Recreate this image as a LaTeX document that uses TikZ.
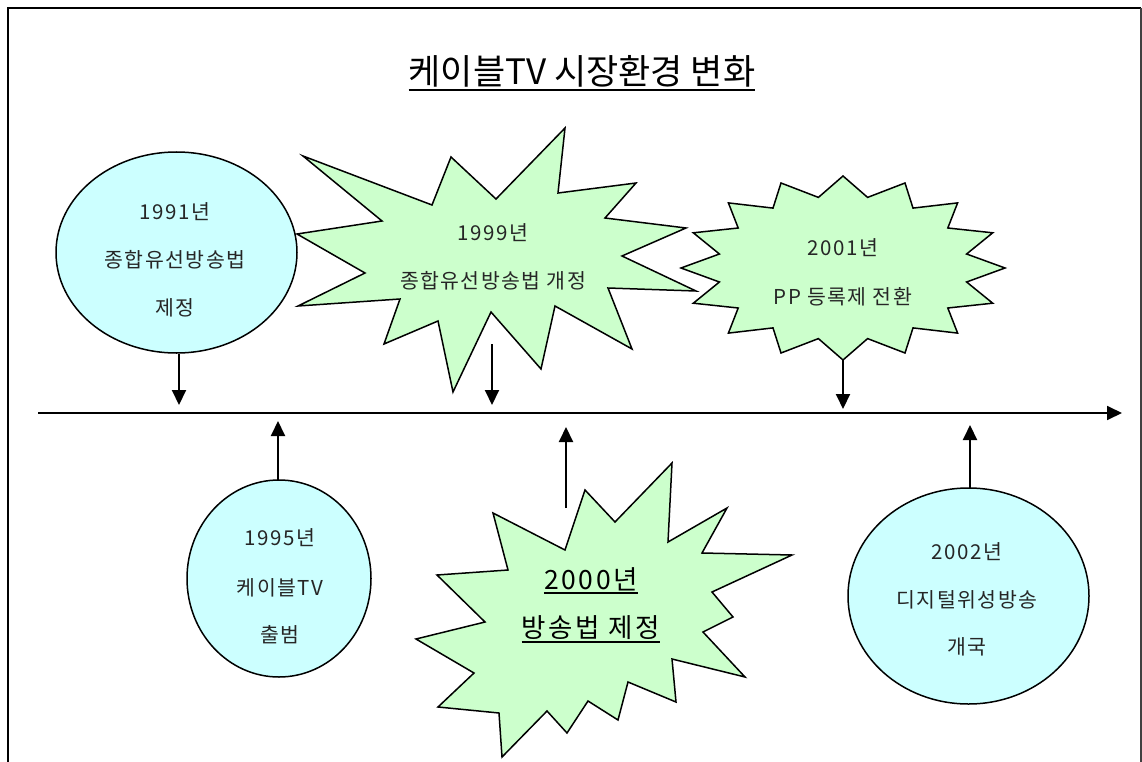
\documentclass[tikz,border=0pt]{standalone}
\usepackage{fontspec}
\setmainfont{Noto Sans CJK KR}
\newfontfamily\spacedf[LetterSpace=7]{Noto Sans CJK KR}
\newfontfamily\spacedbig[LetterSpace=10]{Noto Sans CJK KR}
\usetikzlibrary{arrows.meta,shapes.geometric}
\definecolor{cyanfill}{HTML}{CCFFFF}
\definecolor{greenfill}{HTML}{CCFFCC}
\begin{document}
\begin{tikzpicture}[x=1pt,y=-1pt,
  evt/.style={ellipse, draw=black, line width=1.5pt, fill=cyanfill, inner sep=0},
  burst/.style={draw=black, line width=1.5pt, fill=greenfill, line join=miter},
  lbl/.style={inner sep=0, text=black!85, font=\spacedf\fontsize{20.5}{24}\selectfont},
  biglbl/.style={inner sep=0, text=black, font=\spacedbig\fontsize{26.5}{30}\selectfont},
  arr/.style={line width=2pt, -{Triangle[width=14pt,length=15pt]}},
  uline/.style={line width=2pt}]
\useasboundingbox (0,0) rectangle (1142,762);
\fill[white] (0,0) rectangle (1142,762);
% frame
\draw[line width=2pt] (8,762) -- (8,8) -- (1141,8);
\draw[line width=1.2pt, black!75] (1141,8) -- (1141,762);
% title
\node[inner sep=0, font=\fontsize{35}{42}\selectfont] (title) at (582,71) {케이블TV 시장환경 변화};
\draw[line width=2.2pt] ([yshift=-3pt]title.south west) -- ([yshift=-3pt]title.south east);

% ellipses
\node[evt, minimum width=241pt, minimum height=201pt] (e91) at (176.5,252.5) {};
\node[evt, minimum width=184pt, minimum height=197pt] (e95) at (279,578.5) {};
\node[evt, minimum width=241pt, minimum height=216pt] (e02) at (968.5,596) {};

% 1999 burst
\filldraw[burst] (303,156) -- (432,205) -- (451,157) -- (496,199) -- (565,128) -- (558,193)
  -- (636,183) -- (605,218) -- (686,228) -- (622,256) -- (696,291) -- (608,288)
  -- (632,349) -- (555,306) -- (541,369) -- (491,312) -- (453,392) -- (438,321)
  -- (384,344) -- (400,299) -- (298,306) -- (365,273) -- (297,234) -- (382,221) -- cycle;
\coordinate (s99) at (492,260);

% 2001 burst (16-point star)
\begin{scope}[shift={(843,268)}]
\filldraw[burst] (0,-92) -- (24.6,-70.6) -- (62,-85) -- (70,-59.9) -- (114.6,-65.1)
  -- (104.8,-40) -- (149.7,-35.2) -- (123.6,-14) -- (162,0) -- (123.6,14)
  -- (149.7,35.2) -- (104.8,40) -- (114.6,65.1) -- (70,59.9) -- (62,85)
  -- (24.6,70.6) -- (0,92) -- (-24.6,70.6) -- (-62,85) -- (-70,59.9)
  -- (-114.6,65.1) -- (-104.8,40) -- (-149.7,35.2) -- (-123.6,14) -- (-162,0)
  -- (-123.6,-14) -- (-149.7,-35.2) -- (-104.8,-40) -- (-114.6,-65.1)
  -- (-70,-59.9) -- (-62,-85) -- (-24.6,-70.6) -- cycle;
\end{scope}
\coordinate (s01) at (843,268);

% 2000 burst
\filldraw[burst] (493,513) -- (565,550) -- (585,490) -- (615,522) -- (672,463) -- (668,542)
  -- (727,508) -- (702,553) -- (792,555) -- (712,592) -- (733,617) -- (703,632)
  -- (745,677) -- (672,659) -- (676,702) -- (628,682) -- (618,720) -- (588,701)
  -- (567,733) -- (547,711) -- (502,757) -- (499,713) -- (438,707) -- (474,673)
  -- (416,639) -- (485,622) -- (437,575) -- (508,570) -- cycle;
\coordinate (s00) at (591,605);

% texts
\node[lbl] (t91a) at (175,212) {1991년};
\node[lbl] (t91b) at (175,260) {종합유선방송법};
\node[lbl] (t91c) at (175,308) {제정};

\node[lbl] (t95a) at (280,538) {1995년};
\node[lbl] (t95b) at (280,588) {케이블TV};
\node[lbl] (t95c) at (280,635) {출범};

\node[lbl] (t02a) at (967,552) {2002년};
\node[lbl] (t02b) at (967,600) {디지털위성방송};
\node[lbl] (t02c) at (967,647) {개국};

\node[lbl] (t99a) at (493,233) {1999년};
\node[lbl] (t99b) at (493,281) {종합유선방송법 개정};

\node[lbl] (t01a) at (843,248) {2001년};
\node[lbl] (t01b) at (843,297) {PP 등록제 전환};

\node[biglbl] (t00a) at (591,579) {2000년};
\node[biglbl] (t00b) at (591,628) {방송법 제정};
\draw[uline] ([yshift=-2pt]t00a.south west) -- ([yshift=-2pt]t00a.south east);
\draw[uline] ([yshift=-2pt]t00b.south west) -- ([yshift=-2pt]t00b.south east);

% timeline
\coordinate (tl0) at (38,413);
\coordinate (tl1) at (1122,413);
\draw[line width=1.8pt, -{Triangle[width=14pt,length=15pt]}] (tl0) -- (tl1);

% arrows
\coordinate (a91) at (179,354);  \coordinate (b91) at (179,405);
\coordinate (a99) at (492,344);  \coordinate (b99) at (492,405);
\coordinate (a01) at (843,359);  \coordinate (b01) at (843,409);
\coordinate (a95) at (278,480);  \coordinate (b95) at (278,421);
\coordinate (a00) at (566,508);  \coordinate (b00) at (566,427);
\coordinate (a02) at (970,488);  \coordinate (b02) at (970,425);
\draw[arr] (a91) -- (b91);
\draw[arr] (a99) -- (b99);
\draw[arr] (a01) -- (b01);
\draw[arr] (a95) -- (b95);
\draw[arr] (a00) -- (b00);
\draw[arr] (a02) -- (b02);
\end{tikzpicture}
\end{document}
